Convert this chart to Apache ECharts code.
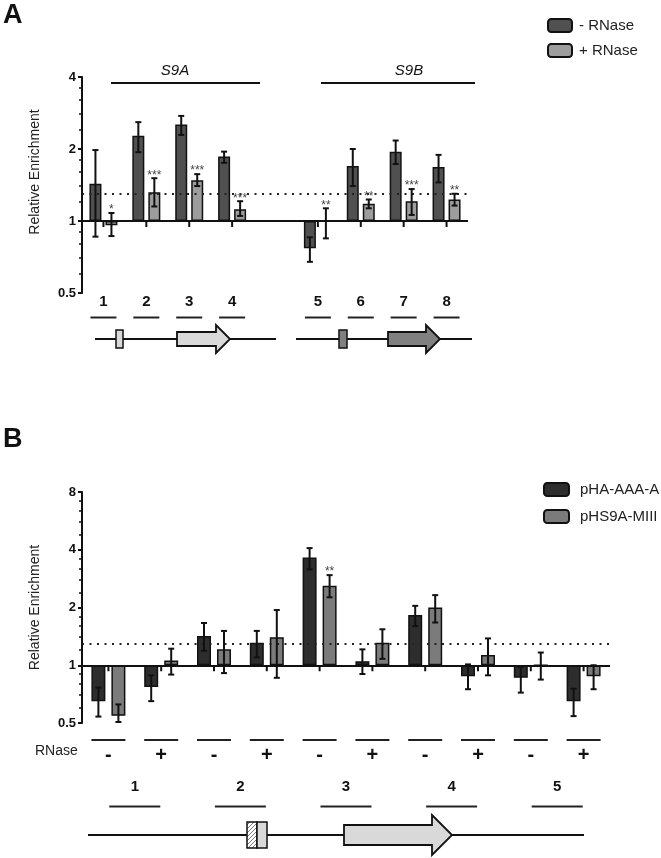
<!DOCTYPE html>
<html><head><meta charset="utf-8">
<script src="https://cdn.jsdelivr.net/npm/echarts@6/dist/echarts.min.js"></script>
<style>html,body{margin:0;padding:0;background:#fff}#c{width:661px;height:858px}</style>
</head><body><div id="c"></div>
<script>
// ---------- Panel A data ----------
const catsA = ['1','2','3','4','','5','6','7','8'];
const minusA   = [1.43, 2.27, 2.53, 1.86, null, 0.77, 1.70, 1.95, 1.68];
const minusAHi = [1.98, 2.59, 2.75, 1.95, null, 0.855, 2.00, 2.17, 1.89];
const minusALo = [0.86, 1.94, 2.29, 1.75, null, 0.675, 1.40, 1.73, 1.45];
const plusA    = [0.96, 1.32, 1.48, 1.12, null, 1.00, 1.18, 1.21, 1.23];
const plusAHi  = [1.08, 1.51, 1.57, 1.21, null, 1.13, 1.23, 1.36, 1.30];
const plusALo  = [0.865, 1.15, 1.40, 1.05, null, 0.846, 1.13, 1.06, 1.16];
const starsA   = ['*','***','***','***','','**','**','***','**'];
const seriesNamesA = ['- RNase', '+ RNase'];

// ---------- Panel B data ----------
const catsB = ['-','+','-','+','-','+','-','+','-','+'];
const regionsB = ['1','2','3','4','5'];
const aaaB    = [0.65, 0.77, 1.42, 1.31, 3.64, 1.05, 1.83, 0.876, 0.86, 0.65];
const aaaBHi  = [0.765, 0.886, 1.66, 1.51, 4.08, 1.21, 2.04, 1.01, 0.98, 0.755];
const aaaBLo  = [0.54, 0.65, 1.19, 1.10, 3.16, 0.90, 1.60, 0.75, 0.72, 0.543];
const miiiB   = [0.545, 1.06, 1.21, 1.40, 2.60, 1.31, 2.00, 1.13, 1.00, 0.876];
const miiiBHi = [0.625, 1.22, 1.51, 1.94, 2.95, 1.54, 2.32, 1.38, 1.165, 1.00];
const miiiBLo = [0.506, 0.894, 0.91, 0.86, 2.26, 1.08, 1.67, 0.886, 0.842, 0.75];
const starsBMiii = ['','','','','**','','','','',''];
const seriesNamesB = ['pHA-AAA-A', 'pHS9A-MIII'];

const threshold = 1.3;
const baseValue = 1;

const FONT = "'Liberation Sans', Arial, sans-serif";
const INK = '#111';

const chart = echarts.init(document.getElementById('c'), null, {renderer: 'canvas'});

// hatch pattern
const hatch = document.createElement('canvas');
hatch.width = 4; hatch.height = 4;
(function(){const g = hatch.getContext('2d'); g.fillStyle = '#fff'; g.fillRect(0,0,4,4);
 g.strokeStyle = '#555'; g.lineWidth = 0.8; g.beginPath(); g.moveTo(0,4); g.lineTo(4,0); g.moveTo(-1,1); g.lineTo(1,-1); g.moveTo(3,5); g.lineTo(5,3); g.stroke();})();

function errSeries(name, xi, yi, cats, lo, hi, stars, offset) {
  const data = [];
  cats.forEach((c, i) => { if (lo[i] != null) data.push([i, lo[i], hi[i]]); });
  return {
    type: 'custom', name: name + ' err', xAxisIndex: xi, yAxisIndex: yi, silent: true, z: 5,
    data: data, encode: {x: 0, y: [1, 2]},
    renderItem: function (params, api) {
      const i = api.value(0);
      const pLo = api.coord([i, api.value(1)]);
      const pHi = api.coord([i, api.value(2)]);
      const x = pLo[0] + offset;
      const cap = 3;
      const st = {stroke: INK, lineWidth: 2};
      const ch = [
        {type: 'line', shape: {x1: x, y1: pLo[1], x2: x, y2: pHi[1]}, style: st},
        {type: 'line', shape: {x1: x - cap, y1: pLo[1], x2: x + cap, y2: pLo[1]}, style: st},
        {type: 'line', shape: {x1: x - cap, y1: pHi[1], x2: x + cap, y2: pHi[1]}, style: st}
      ];
      if (stars[i]) ch.push({type: 'text', style: {text: stars[i], x: x, y: pHi[1] + 3, align: 'center', verticalAlign: 'bottom', fontSize: 12, fontFamily: FONT, fill: '#444'}});
      return {type: 'group', children: ch};
    }
  };
}
function tickSeries(xi, yi, cats) {
  const data = [];
  cats.forEach((c, i) => { if (c !== '') data.push([i, baseValue]); });
  return {
    type: 'custom', xAxisIndex: xi, yAxisIndex: yi, silent: true, z: 6, data: data,
    renderItem: function (params, api) {
      const p = api.coord([api.value(0), api.value(1)]);
      return {type: 'line', shape: {x1: p[0], y1: p[1], x2: p[0], y2: p[1] + 6}, style: {stroke: INK, lineWidth: 2}};
    }
  };
}
function barSeries(name, xi, yi, data, color, withLines, bw, gap) {
  const s = {
    type: 'bar', name: name, xAxisIndex: xi, yAxisIndex: yi, data: data,
    barWidth: bw, barGap: gap, z: 3,
    itemStyle: {color: color, borderColor: INK, borderWidth: 1.5},
    emphasis: {disabled: true}
  };
  if (withLines) {
    s.markLine = {
      silent: true, symbol: 'none', label: {show: false}, animation: false,
      data: [
        {yAxis: baseValue, lineStyle: {type: 'solid', width: 2, color: INK}},
        {yAxis: threshold, lineStyle: {type: [2, 5.5], width: 2, color: '#222'}}
      ]
    };
  }
  return s;
}

const yAxisCommon = {
  type: 'log', logBase: 2,
  axisLine: {show: true, lineStyle: {color: INK, width: 2}},
  axisTick: {show: true, length: 4, lineStyle: {color: INK, width: 2}},
  minorTick: {show: true, splitNumber: 5, length: 3, lineStyle: {color: INK, width: 1.5}},
  splitLine: {show: false}, minorSplitLine: {show: false},
  axisLabel: {color: INK, fontWeight: 'bold', fontSize: 13, fontFamily: FONT, margin: 6},
  name: 'Relative Enrichment', nameLocation: 'middle', nameGap: 40,
  nameTextStyle: {color: '#222', fontSize: 14, fontFamily: FONT}
};

const option = {
  animation: false,
  backgroundColor: '#fff',
  textStyle: {fontFamily: FONT},
  grid: [
    {left: 82, top: 77, width: 386, height: 216, outerBoundsMode: 'none', containLabel: false},
    {left: 82, top: 492, width: 528, height: 231, outerBoundsMode: 'none', containLabel: false}
  ],
  legend: [
    {data: seriesNamesA, orient: 'vertical', left: 542, top: 13, itemWidth: 24, itemHeight: 13, itemGap: 10,
     icon: 'roundRect', textStyle: {fontSize: 15, color: '#222', fontFamily: FONT, lineHeight: 15, padding: [0,0,0,2]}, selectedMode: false},
    {data: seriesNamesB, orient: 'vertical', left: 538, top: 477, itemWidth: 25, itemHeight: 13, itemGap: 12,
     icon: 'roundRect', textStyle: {fontSize: 15, color: '#222', fontFamily: FONT, lineHeight: 15, padding: [0,0,0,6]}, selectedMode: false}
  ],
  xAxis: [
    {type: 'category', gridIndex: 0, data: catsA, position: 'bottom',
     axisLine: {show: false}, axisTick: {show: false},
     axisLabel: {interval: 0, margin: 0, formatter: v => v ? '{n|' + v + '}\n{d|}' : '',
       rich: {n: {fontSize: 15, fontWeight: 'bold', color: INK, lineHeight: 17, fontFamily: FONT},
              d: {width: 26, height: 2, backgroundColor: '#222', lineHeight: 15}}}},
    {type: 'category', gridIndex: 1, data: catsB, position: 'bottom',
     axisLine: {show: false}, axisTick: {show: false},
     axisLabel: {interval: 0, margin: 13, formatter: v => '{d|}\n{s|' + v + '}',
       rich: {d: {width: 34, height: 2, backgroundColor: '#222', lineHeight: 8},
              s: {fontSize: 20, fontWeight: 'bold', color: INK, lineHeight: 22, fontFamily: FONT}}}},
    {type: 'category', gridIndex: 1, data: regionsB, position: 'bottom',
     axisLine: {show: false}, axisTick: {show: false},
     axisLabel: {interval: 0, margin: 55, formatter: v => '{n|' + v + '}\n{d|}',
       rich: {n: {fontSize: 15, fontWeight: 'bold', color: INK, lineHeight: 17, fontFamily: FONT},
              d: {width: 51, height: 2, backgroundColor: '#222', lineHeight: 23}}}}
  ],
  yAxis: [
    Object.assign({}, yAxisCommon, {gridIndex: 0, min: 0.5, max: 4,
      nameTextStyle: Object.assign({}, yAxisCommon.nameTextStyle, {padding: [0, 0, 0, 26]})}),
    Object.assign({}, yAxisCommon, {gridIndex: 1, min: 0.5, max: 8})
  ],
  series: [
    barSeries(seriesNamesA[0], 0, 0, minusA, '#505050', true, 12, '33.3%'),
    barSeries(seriesNamesA[1], 0, 0, plusA, '#9d9d9d', false, 12, '33.3%'),
    errSeries('a-', 0, 0, catsA, minusALo, minusAHi, catsA.map(() => ''), -8),
    errSeries('a+', 0, 0, catsA, plusALo, plusAHi, starsA, 8),
    tickSeries(0, 0, catsA),
    barSeries(seriesNamesB[0], 1, 1, aaaB, '#2d2d2d', true, 14, '42.9%'),
    barSeries(seriesNamesB[1], 1, 1, miiiB, '#7b7b7b', false, 14, '42.9%'),
    errSeries('b1', 1, 1, catsB, aaaBLo, aaaBHi, catsB.map(() => ''), -10),
    errSeries('b2', 1, 1, catsB, miiiBLo, miiiBHi, starsBMiii, 10),
    tickSeries(1, 1, catsB)
  ],
  graphic: [
    {type: 'text', left: 3, top: 2, style: {text: 'A', font: 'bold 27px ' + FONT, fill: INK}},
    {type: 'text', left: 3, top: 426, style: {text: 'B', font: 'bold 27px ' + FONT, fill: INK}},
    {type: 'text', x: 175, y: 71, style: {text: 'S9A', font: 'italic 15px ' + FONT, fill: INK, align: 'center', verticalAlign: 'middle'}},
    {type: 'text', x: 409, y: 71, style: {text: 'S9B', font: 'italic 15px ' + FONT, fill: INK, align: 'center', verticalAlign: 'middle'}},
    {type: 'line', shape: {x1: 111, y1: 83, x2: 260, y2: 83}, style: {stroke: INK, lineWidth: 2}},
    {type: 'line', shape: {x1: 321, y1: 83, x2: 475, y2: 83}, style: {stroke: INK, lineWidth: 2}},
    // gene A1
    {type: 'line', shape: {x1: 95, y1: 339, x2: 276, y2: 339}, style: {stroke: INK, lineWidth: 2}},
    {type: 'rect', shape: {x: 116, y: 330, width: 7, height: 18}, style: {fill: '#d9d9d9', stroke: INK, lineWidth: 1.5}},
    {type: 'polygon', shape: {points: [[177,332],[216,332],[216,325],[230,339],[216,353],[216,346],[177,346]]}, style: {fill: '#d9d9d9', stroke: INK, lineWidth: 1.8}},
    // gene A2
    {type: 'line', shape: {x1: 296, y1: 339, x2: 472, y2: 339}, style: {stroke: INK, lineWidth: 2}},
    {type: 'rect', shape: {x: 339, y: 330, width: 8, height: 18}, style: {fill: '#808080', stroke: INK, lineWidth: 1.5}},
    {type: 'polygon', shape: {points: [[388,332],[426,332],[426,325],[440,339],[426,353],[426,346],[388,346]]}, style: {fill: '#808080', stroke: INK, lineWidth: 1.8}},
    // RNase label
    {type: 'text', x: 35, y: 751, style: {text: 'RNase', font: '14px ' + FONT, fill: '#222', verticalAlign: 'middle'}},
    // gene B
    {type: 'line', shape: {x1: 88, y1: 835, x2: 584, y2: 835}, style: {stroke: INK, lineWidth: 2}},
    {type: 'rect', shape: {x: 247, y: 822, width: 10, height: 26}, style: {fill: {image: hatch, repeat: 'repeat'}, stroke: INK, lineWidth: 1.5}},
    {type: 'rect', shape: {x: 257, y: 822, width: 10, height: 26}, style: {fill: '#d9d9d9', stroke: INK, lineWidth: 1.5}},
    {type: 'polygon', shape: {points: [[344,825],[432,825],[432,815],[452,835],[432,855],[432,845],[344,845]]}, style: {fill: '#d9d9d9', stroke: INK, lineWidth: 1.8}}
  ]
};
chart.setOption(option);
</script>
</body></html>
